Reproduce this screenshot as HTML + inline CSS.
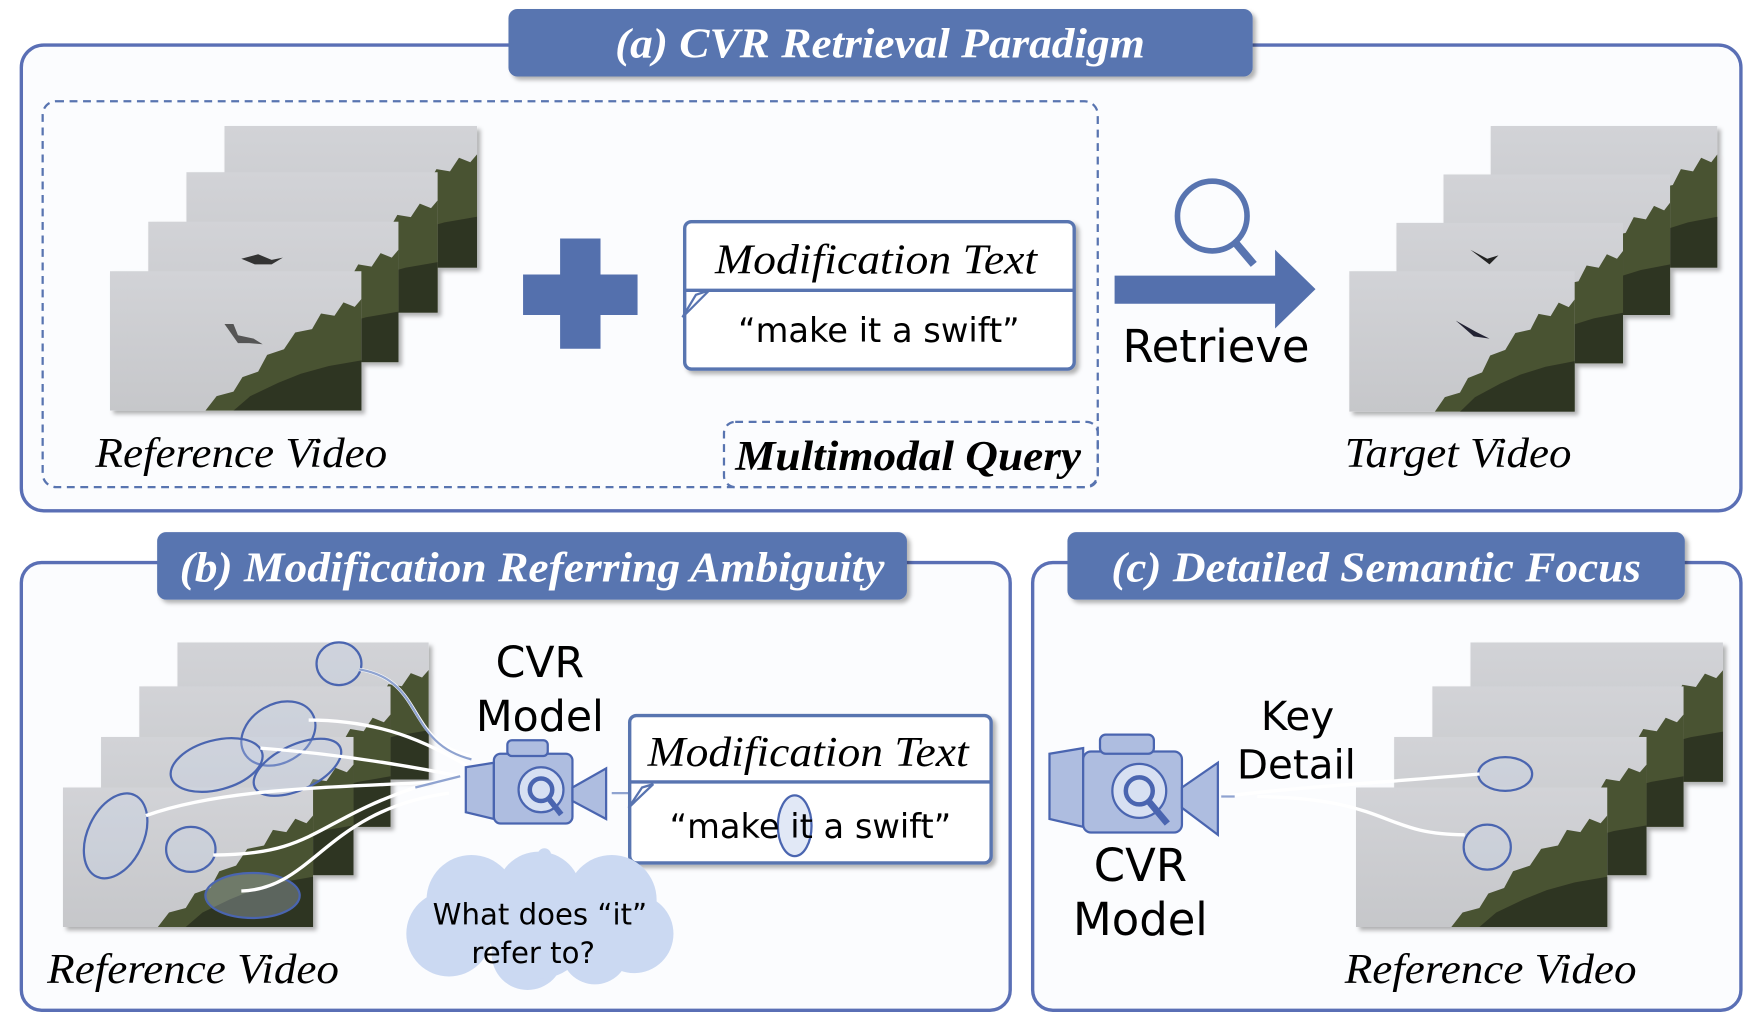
<!DOCTYPE html>
<html><head><meta charset="utf-8"><style>
html,body{margin:0;padding:0;background:#fff;width:1760px;height:1026px;overflow:hidden}
svg{display:block}
.t{font-family:"Liberation Serif",serif;font-style:italic}
.c{font-family:"DejaVu Sans","Liberation Sans",sans-serif}
</style></head><body>
<svg width="1760" height="1026" viewBox="0 0 1568 912" preserveAspectRatio="none" xmlns="http://www.w3.org/2000/svg">
<defs>
<linearGradient id="sky" x1="0" y1="0" x2="0" y2="1"><stop offset="0" stop-color="#d2d3d7"/><stop offset="1" stop-color="#c6c7ca"/></linearGradient>
<symbol id="fr" viewBox="0 0 224 125" preserveAspectRatio="none">
<rect width="224" height="125" fill="url(#sky)"/>
<path d="M85 125 L95 112 L110 108 L118 95 L132 90 L140 75 L155 70 L165 55 L180 52 L188 38 L200 40 L208 28 L218 32 L224 25 L224 125Z" fill="#4a5233"/>
<path d="M110 125 L125 112 L150 100 L170 92 L195 85 L224 80 L224 125Z" fill="#2f3622"/>
</symbol>
<filter id="sh" x="-10%" y="-10%" width="130%" height="130%"><feDropShadow dx="3" dy="3" stdDeviation="2" flood-color="#000" flood-opacity="0.3"/></filter>
</defs>
<rect width="1568" height="912" fill="#fff"/>
<!-- panel a -->
<rect x="19" y="40" width="1532" height="414" rx="20" fill="#fbfcfe" stroke="#5a6fb5" stroke-width="3"/>
<rect x="453" y="8" width="663" height="60" rx="8" fill="#5874b0" filter="url(#sh)"/>
<text x="548" y="51" textLength="472" lengthAdjust="spacingAndGlyphs" class="t" font-weight="bold" font-size="38" fill="#fff">(a) CVR Retrieval Paradigm</text>
<rect x="38" y="90" width="940" height="343" rx="12" fill="none" stroke="#5874b0" stroke-width="2" stroke-dasharray="7,5"/>
<rect x="645" y="375" width="333" height="58" rx="10" fill="none" stroke="#5874b0" stroke-width="2" stroke-dasharray="7,5"/>
<g filter="url(#sh)">
<use href="#fr" x="200" y="112" width="225" height="126"/>
<use href="#fr" x="166" y="153" width="224" height="125"/>
<use href="#fr" x="132" y="197" width="223" height="125"/>
<use href="#fr" x="98" y="241" width="224" height="124"/>
</g>
<path d="M215 230 l15 -4 l12 5 l10 -2 l-10 6 l-15 0z" fill="#333"/>
<path d="M200 288 l8 0 l4 10 l14 3 l8 5 l-12 -1 l-10 0z" fill="#555"/>
<text x="85" y="415" textLength="260" lengthAdjust="spacingAndGlyphs" class="t" font-size="38">Reference Video</text>
<rect x="466" y="244" width="102" height="36" fill="#5470ad"/>
<rect x="499" y="212" width="36" height="98" fill="#5470ad"/>
<rect x="610" y="197" width="347" height="131" rx="6" fill="#fff" stroke="#5874b0" stroke-width="3" filter="url(#sh)"/>
<line x1="610" y1="258" x2="957" y2="258" stroke="#5874b0" stroke-width="3"/>
<path d="M632 258 L608 282 L620 262Z" fill="#fff" stroke="#5874b0" stroke-width="2"/>
<text x="637" y="243" textLength="287" lengthAdjust="spacingAndGlyphs" class="t" font-size="38">Modification Text</text>
<text x="783" y="304" text-anchor="middle" class="c" font-size="30">“make it a swift”</text>
<text x="655" y="418" textLength="308" lengthAdjust="spacingAndGlyphs" class="t" font-weight="bold" font-size="38">Multimodal Query</text>
<rect x="993" y="245" width="145" height="25" fill="#5470ad"/>
<path d="M1136 222 L1172 257 L1136 292Z" fill="#5470ad"/>
<circle cx="1080" cy="192" r="31" fill="none" stroke="#5874b0" stroke-width="5"/>
<line x1="1100" y1="215" x2="1117" y2="235" stroke="#5874b0" stroke-width="7"/>
<text x="1000" y="322" class="c" font-size="40">Retrieve</text>
<g filter="url(#sh)">
<use href="#fr" x="1328" y="112" width="202" height="126"/>
<use href="#fr" x="1286" y="155" width="202" height="125"/>
<use href="#fr" x="1244" y="198" width="202" height="125"/>
<use href="#fr" x="1202" y="241" width="201" height="125"/>
</g>
<path d="M1310 222 l15 8 l10 -3 l-8 8z" fill="#222"/>
<path d="M1297 285 l18 10 l12 6 l-14 -2z" fill="#223"/>
<text x="1198" y="415" textLength="202" lengthAdjust="spacingAndGlyphs" class="t" font-size="38">Target Video</text>
<!-- panel b -->
<rect x="19" y="500" width="881" height="398" rx="18" fill="#fbfcfe" stroke="#5a6fb5" stroke-width="3"/>
<rect x="140" y="473" width="668" height="60" rx="8" fill="#5874b0" filter="url(#sh)"/>
<text x="160" y="517" textLength="628" lengthAdjust="spacingAndGlyphs" class="t" font-weight="bold" font-size="38" fill="#fff">(b) Modification Referring Ambiguity</text>
<g filter="url(#sh)">
<use href="#fr" x="158" y="571" width="224" height="122"/>
<use href="#fr" x="124" y="610" width="224" height="125"/>
<use href="#fr" x="90" y="655" width="225" height="123"/>
<use href="#fr" x="56" y="700" width="223" height="124"/>
</g>
<g fill="#c7d3ec" fill-opacity="0.3" stroke="#4a65b0" stroke-width="2">
<ellipse cx="302" cy="590" rx="20" ry="19"/>
<ellipse cx="248" cy="652" rx="35" ry="26" transform="rotate(-30 248 652)"/>
<ellipse cx="193" cy="680" rx="42" ry="22" transform="rotate(-15 193 680)"/>
<ellipse cx="265" cy="682" rx="42" ry="20" transform="rotate(-25 265 682)"/>
<ellipse cx="103" cy="743" rx="25" ry="40" transform="rotate(25 103 743)"/>
<ellipse cx="170" cy="755" rx="22" ry="20"/>
<ellipse cx="225" cy="796" rx="42" ry="20"/>
</g>
<g fill="none" stroke="#fff" stroke-width="3">
<path d="M320 595 C380 605 360 660 420 672"/>
<path d="M275 640 C340 640 380 660 415 680"/>
<path d="M232 665 C300 670 360 680 410 690"/>
<path d="M130 725 C200 700 300 700 390 695"/>
<path d="M190 760 C280 760 280 730 370 700"/>
<path d="M215 792 C280 790 290 720 400 705"/>
</g>
<g fill="none" stroke="#8fa3d0" stroke-width="2">
<path d="M320 595 C380 605 360 660 420 675"/>
<path d="M370 700 L410 690"/>
<path d="M560 705 L545 705"/>
</g>
<text x="481" y="602" text-anchor="middle" class="c" font-size="38">CVR</text>
<text x="481" y="650" text-anchor="middle" class="c" font-size="38">Model</text>
<g stroke="#4a65b0" stroke-width="2" fill="#aebde0">
<path d="M415 682 L440 678 L440 728 L415 722Z"/>
<rect x="440" y="670" width="70" height="62" rx="6"/>
<rect x="452" y="658" width="36" height="14" rx="4"/>
<path d="M510 700 L540 683 L540 728 L510 712Z"/>
<circle cx="482" cy="702" r="20" fill="#d7e0f2"/>
<circle cx="482" cy="702" r="10" fill="none" stroke-width="4"/>
<line x1="489" y1="710" x2="500" y2="724" stroke-width="5"/>
</g>
<rect x="561" y="636" width="322" height="131" rx="6" fill="#fff" stroke="#5874b0" stroke-width="3" filter="url(#sh)"/>
<line x1="561" y1="695" x2="883" y2="695" stroke="#5874b0" stroke-width="3"/>
<path d="M582 697 L560 718 L572 700Z" fill="#fff" stroke="#5874b0" stroke-width="2"/>
<text x="577" y="681" textLength="286" lengthAdjust="spacingAndGlyphs" class="t" font-size="38">Modification Text</text>
<ellipse cx="708" cy="734" rx="15" ry="27" fill="#e1e8f6" stroke="#4a65b0" stroke-width="2"/>
<text x="722" y="745" text-anchor="middle" class="c" font-size="30">“make it a swift”</text>
<g fill="#cbd9f2">
<circle cx="485" cy="760" r="6"/><circle cx="485" cy="775" r="9"/>
<circle cx="420" cy="800" r="40"/><circle cx="480" cy="795" r="38"/><circle cx="545" cy="800" r="40"/>
<circle cx="400" cy="830" r="38"/><circle cx="565" cy="830" r="35"/><circle cx="470" cy="848" r="32"/><circle cx="530" cy="845" r="30"/><circle cx="480" cy="825" r="45"/>
</g>
<text x="481" y="822" text-anchor="middle" class="c" font-size="26">What does “it”</text>
<text x="475" y="856" text-anchor="middle" class="c" font-size="26">refer to?</text>
<text x="42" y="874" textLength="260" lengthAdjust="spacingAndGlyphs" class="t" font-size="38">Reference Video</text>
<!-- panel c -->
<rect x="920" y="500" width="631" height="398" rx="18" fill="#fbfcfe" stroke="#5a6fb5" stroke-width="3"/>
<rect x="951" y="473" width="550" height="60" rx="8" fill="#5874b0" filter="url(#sh)"/>
<text x="990" y="517" textLength="472" lengthAdjust="spacingAndGlyphs" class="t" font-weight="bold" font-size="38" fill="#fff">(c) Detailed Semantic Focus</text>
<g filter="url(#sh)">
<use href="#fr" x="1310" y="571" width="225" height="124"/>
<use href="#fr" x="1276" y="610" width="224" height="125"/>
<use href="#fr" x="1242" y="655" width="225" height="123"/>
<use href="#fr" x="1208" y="700" width="224" height="124"/>
</g>
<g fill="#c7d3ec" fill-opacity="0.3" stroke="#4a65b0" stroke-width="2">
<ellipse cx="1341" cy="688" rx="24" ry="15"/>
<ellipse cx="1325" cy="753" rx="21" ry="20"/>
</g>
<g fill="none" stroke="#fff" stroke-width="3">
<path d="M1318 688 C1240 695 1150 700 1090 708"/>
<path d="M1305 742 C1230 742 1240 710 1120 708"/>
</g>
<path d="M1100 708 L1088 708" stroke="#8fa3d0" stroke-width="2"/>
<g stroke="#4a65b0" stroke-width="2" fill="#aebde0">
<path d="M935 670 L965 665 L965 735 L935 728Z"/>
<rect x="965" y="668" width="88" height="72" rx="7"/>
<rect x="980" y="653" width="48" height="17" rx="5"/>
<path d="M1053 700 L1085 678 L1085 742 L1053 718Z"/>
<circle cx="1015" cy="703" r="24" fill="#d7e0f2"/>
<circle cx="1015" cy="703" r="12" fill="none" stroke-width="4"/>
<line x1="1024" y1="713" x2="1040" y2="732" stroke-width="6"/>
</g>
<text x="1156" y="649" text-anchor="middle" class="c" font-size="36">Key</text>
<text x="1155" y="692" text-anchor="middle" class="c" font-size="36">Detail</text>
<text x="1016" y="783" text-anchor="middle" class="c" font-size="40">CVR</text>
<text x="1016" y="831" text-anchor="middle" class="c" font-size="40">Model</text>
<text x="1198" y="874" textLength="260" lengthAdjust="spacingAndGlyphs" class="t" font-size="38">Reference Video</text>
</svg>
</body></html>
